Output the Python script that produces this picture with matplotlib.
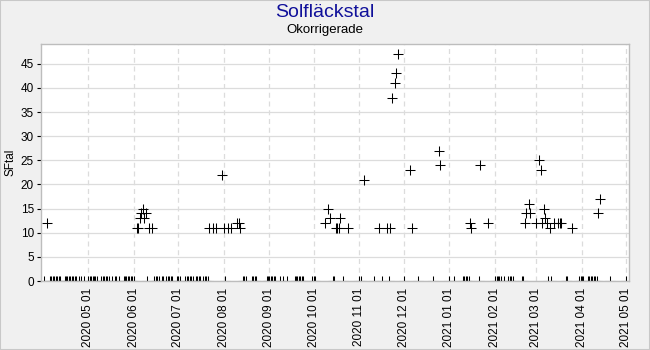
import numpy as np
import pandas as pd
import matplotlib
matplotlib.use("Agg")
import matplotlib.pyplot as plt
import matplotlib.dates as mdates
from matplotlib.patches import Rectangle

plt.rcParams['font.family'] = ['Liberation Sans', 'DejaVu Sans']

# --- observed days with sunspots (date, count) ---
spot_dates = [
    "2020-04-03",
    "2020-06-03", "2020-06-04", "2020-06-05", "2020-06-06", "2020-06-07",
    "2020-06-08", "2020-06-09", "2020-06-11", "2020-06-13",
    "2020-07-22", "2020-07-25", "2020-07-27", "2020-07-31", "2020-08-01",
    "2020-08-04", "2020-08-06", "2020-08-10", "2020-08-11", "2020-08-12",
    "2020-10-09", "2020-10-11", "2020-10-12", "2020-10-16", "2020-10-17",
    "2020-10-18", "2020-10-19", "2020-10-24",
    "2020-11-04", "2020-11-14", "2020-11-20", "2020-11-22", "2020-11-23",
    "2020-11-25", "2020-11-26", "2020-11-27",
    "2020-12-05", "2020-12-07", "2020-12-25", "2020-12-26",
    "2021-01-15", "2021-01-16", "2021-01-22", "2021-01-27",
    "2021-02-21", "2021-02-22", "2021-02-24", "2021-02-25", "2021-03-01",
    "2021-03-03", "2021-03-04", "2021-03-05", "2021-03-06", "2021-03-07",
    "2021-03-08", "2021-03-10", "2021-03-13", "2021-03-16", "2021-03-17",
    "2021-03-18", "2021-03-25", "2021-04-12", "2021-04-13",
]
spot_values = [
    12,
    11, 11, 13, 14, 15,
    13, 14, 11, 11,
    11, 11, 11, 22, 11,
    11, 11, 12, 12, 11,
    12, 15, 13, 11, 11,
    11, 13, 11,
    21, 11, 11, 11, 38,
    41, 43, 47,
    23, 11, 27, 24,
    12, 11, 24, 12,
    12, 14, 16, 14, 12,
    25, 23, 12, 15, 13,
    12, 11, 12, 12, 12,
    12, 11, 14, 17,
]

# --- observed days without sunspots, day numbers per month ---
zero_months = ["2020-04", "2020-05", "2020-06", "2020-07", "2020-08", "2020-09",
               "2020-10", "2020-11", "2020-12", "2021-01", "2021-02", "2021-03",
               "2021-04", "2021-05"]
zero_days = [
    [1, 5, 6, 7, 8, 9, 10, 11, 12, 15, 16, 17, 18, 19, 20, 21, 22, 23, 25, 26, 28],
    [1, 2, 3, 4, 5, 6, 7, 10, 11, 12, 13, 14, 15, 17, 19, 20, 22, 25, 26, 27, 28, 29, 30, 31],
    [1, 10, 15, 16, 17, 18, 20, 21, 23, 24, 25, 26, 27, 30],
    [1, 2, 6, 7, 8, 9, 10, 11, 13, 14, 15, 16, 18, 19, 20, 21],
    [2, 14, 15, 16, 20, 21, 22, 23, 30, 31],
    [1, 2, 3, 4, 5, 8, 10, 13, 18, 19, 20, 21, 22, 23, 24, 30],
    [1, 2, 14, 15, 21],
    [1, 2, 11, 16, 21],
    [1, 11, 21],
    [1, 4, 10, 11, 12, 13, 14, 21],
    [1, 2, 3, 4, 5, 7, 10, 11, 12, 13, 19, 20],
    [9, 11, 21, 22, 30, 31],
    [1, 2, 5, 6, 7, 8, 9, 10, 11, 20],
    [1],
]

month_ticks = pd.date_range("2020-05-01", "2021-05-01", freq="MS")

zero_dates = [f"{m}-{d:02d}" for m, days in zip(zero_months, zero_days) for d in days]

df = pd.DataFrame({
    "date": pd.to_datetime(spot_dates + zero_dates),
    "sf": spot_values + [0] * len(zero_dates),
}).sort_values("date")

fig = plt.figure(figsize=(6.5, 3.5), dpi=100, facecolor="#f0f0f0")
fig.patches.append(Rectangle((0, 0), 1, 1, transform=fig.transFigure, fill=False,
                             edgecolor="#c8c8c8", linewidth=1.5))
ax = fig.add_axes([0.063, 0.197, 0.905, 0.676])
ax.set_facecolor("white")

ax.plot(df["date"], df["sf"], linestyle="none", marker="+", markersize=7,
        markeredgewidth=0.75, color="black")

ax.set_xlim(pd.Timestamp("2020-03-30"), pd.Timestamp("2021-05-03"))
ax.set_ylim(0, 49)
ax.set_yticks(np.arange(0, 50, 5))
ax.set_xticks(month_ticks)
ax.xaxis.set_major_formatter(mdates.DateFormatter("%Y %m %d"))
plt.setp(ax.get_xticklabels(), rotation=90)

ax.tick_params(axis="x", length=0, pad=5, labelsize=8.5)
ax.tick_params(axis="y", length=3, width=0.8, pad=2, labelsize=8.5, color="black")
ax.grid(axis="y", color="#dcdcdc", linewidth=0.9, linestyle="-")
ax.grid(axis="x", color="#dcdcdc", linewidth=0.9, linestyle=(0, (4, 3)))
ax.set_axisbelow(True)
for s in ax.spines.values():
    s.set_color("#bdbdbd")
    s.set_linewidth(1)

ax.set_ylabel("SFtal", fontsize=8.5, labelpad=3)
fig.text(0.5, 0.963, "Solfläckstal", ha="center", va="center", fontsize=14,
         color="#10109a")
fig.text(0.5, 0.913, "Okorrigerade", ha="center", va="center", fontsize=9.5,
         color="black")

fig.savefig("out.png", dpi=100, facecolor=fig.get_facecolor())
